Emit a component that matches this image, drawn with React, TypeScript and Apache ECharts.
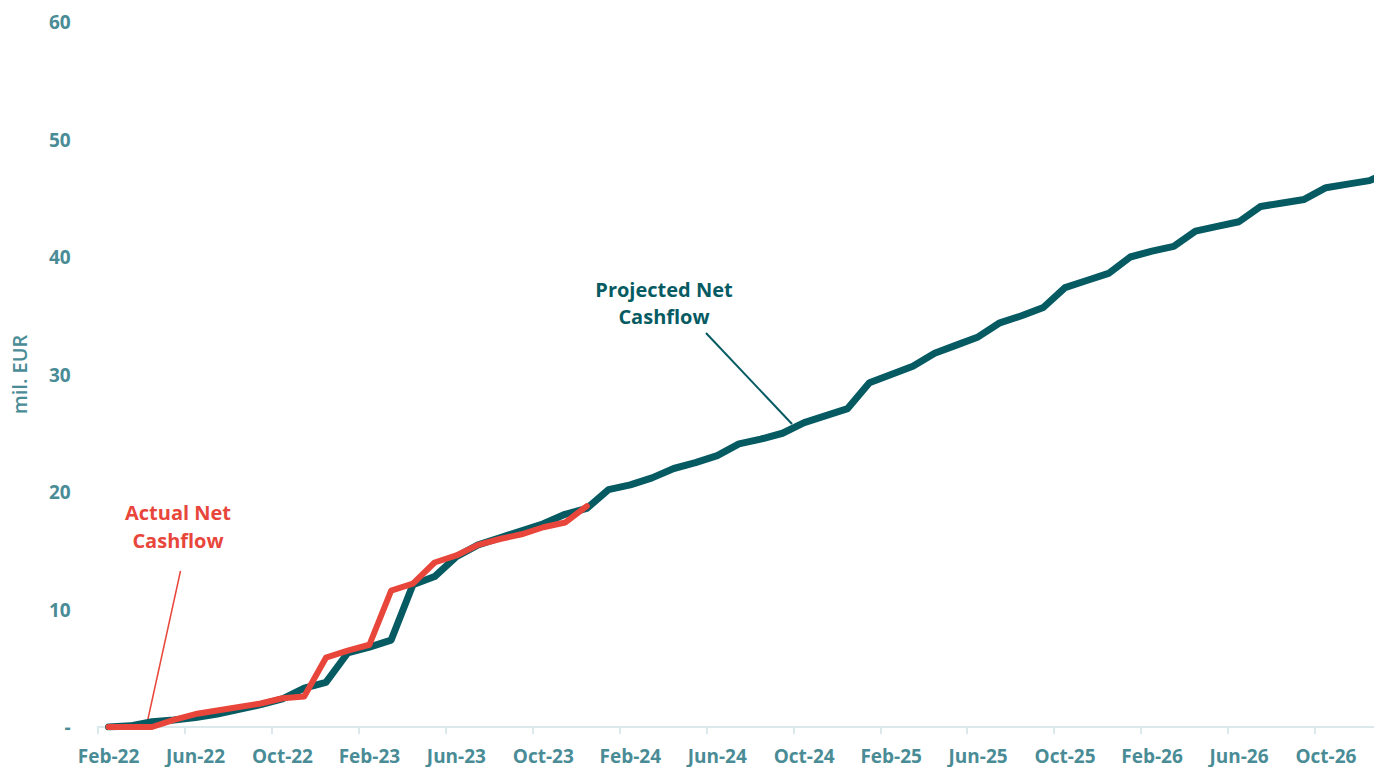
import React, { useEffect, useRef } from "react";
import * as echarts from "echarts";

const categories = [
  "Feb-22", "Mar-22", "Apr-22", "May-22", "Jun-22", "Jul-22", "Aug-22", "Sep-22", "Oct-22", "Nov-22", "Dec-22",
  "Jan-23", "Feb-23", "Mar-23", "Apr-23", "May-23", "Jun-23", "Jul-23", "Aug-23", "Sep-23", "Oct-23", "Nov-23", "Dec-23",
  "Jan-24", "Feb-24", "Mar-24", "Apr-24", "May-24", "Jun-24", "Jul-24", "Aug-24", "Sep-24", "Oct-24", "Nov-24", "Dec-24",
  "Jan-25", "Feb-25", "Mar-25", "Apr-25", "May-25", "Jun-25", "Jul-25", "Aug-25", "Sep-25", "Oct-25", "Nov-25", "Dec-25",
  "Jan-26", "Feb-26", "Mar-26", "Apr-26", "May-26", "Jun-26", "Jul-26", "Aug-26", "Sep-26", "Oct-26", "Nov-26", "Dec-26",
  "Jan-27",
];

const projectedNetCashflow = [
  0, 0.1, 0.45, 0.6, 0.8, 1.1, 1.5, 1.9, 2.4, 3.3, 3.8,
  6.3, 6.8, 7.4, 12.1, 12.8, 14.5, 15.5, 16.1, 16.7, 17.3, 18.1, 18.6,
  20.2, 20.6, 21.2, 22.0, 22.5, 23.1, 24.1, 24.5, 25.0, 25.9, 26.5, 27.1,
  29.3, 30.0, 30.7, 31.8, 32.5, 33.2, 34.4, 35.0, 35.7, 37.4, 38.0, 38.6,
  40.0, 40.5, 40.9, 42.2, 42.6, 43.0, 44.3, 44.6, 44.9, 45.9, 46.2, 46.5,
  47.3,
];

const actualNetCashflow = [
  0, 0, 0, 0.6, 1.1, 1.4, 1.7, 2.0, 2.45, 2.6, 5.9,
  6.5, 7.0, 11.6, 12.2, 14.0, 14.6, 15.5, 16.0, 16.4, 17.0, 17.4, 18.8,
];

const yTicks = { min: 0, max: 60, interval: 10 };

const TEAL_TEXT = "#4A8C96";
const DARK = "#065B63";
const RED = "#E8463B";
const FONT = "'Open Sans', sans-serif";

export default function App() {
  const ref = useRef<HTMLDivElement>(null);

  useEffect(() => {
    if (!ref.current) return;
    const chart = echarts.init(ref.current, null, { renderer: "svg" });
    chart.setOption({
      animation: false,
      backgroundColor: "#ffffff",
      grid: { left: 97.7, right: 0, top: 22, bottom: 40, containLabel: false },
      xAxis: {
        type: "category",
        data: categories,
        boundaryGap: true,
        axisLine: { show: true, lineStyle: { color: "#DCE9EC", width: 2 } },
        axisTick: { show: true, interval: 3, length: 7, lineStyle: { color: "#DCE9EC", width: 2 } },
        axisLabel: {
          interval: 3,
          margin: 19,
          color: TEAL_TEXT,
          fontFamily: FONT,
          fontWeight: "bold",
          fontSize: 19,
        },
        splitLine: { show: false },
      },
      yAxis: {
        type: "value",
        min: yTicks.min,
        max: yTicks.max,
        interval: yTicks.interval,
        name: "mil. EUR",
        nameLocation: "middle",
        nameRotate: 90,
        nameGap: 68,
        nameTextStyle: { color: TEAL_TEXT, fontFamily: FONT, fontWeight: 600, fontSize: 20 },
        axisLine: { show: false },
        axisTick: { show: false },
        splitLine: { show: false },
        axisLabel: {
          margin: 27,
          color: TEAL_TEXT,
          fontFamily: FONT,
          fontWeight: "bold",
          fontSize: 19,
          formatter: (v: number) => (v === 0 ? "-" : String(v)),
        },
      },
      series: [
        {
          name: "Projected Net Cashflow",
          type: "line",
          data: projectedNetCashflow,
          symbol: "none",
          z: 2,
          lineStyle: { color: DARK, width: 7, join: "round", cap: "round" },
        },
        {
          name: "Actual Net Cashflow",
          type: "line",
          data: actualNetCashflow,
          symbol: "none",
          z: 3,
          lineStyle: { color: RED, width: 6, join: "round", cap: "round" },
        },
      ],
      graphic: [
        {
          type: "text",
          x: 664,
          y: 302.5,
          style: {
            text: "Projected Net\nCashflow",
            fill: DARK,
            font: `bold 20px ${FONT}`,
            align: "center",
            verticalAlign: "middle",
            lineHeight: 27,
          },
        },
        {
          type: "line",
          shape: { x1: 706, y1: 333, x2: 792, y2: 424 },
          style: { stroke: DARK, lineWidth: 2 },
        },
        {
          type: "text",
          x: 178,
          y: 526,
          style: {
            text: "Actual Net\nCashflow",
            fill: RED,
            font: `bold 20px ${FONT}`,
            align: "center",
            verticalAlign: "middle",
            lineHeight: 28,
          },
        },
        {
          type: "line",
          shape: { x1: 180.5, y1: 571, x2: 147.5, y2: 721 },
          style: { stroke: RED, lineWidth: 1.5 },
        },
      ],
    });
    return () => chart.dispose();
  }, []);

  return (
    <div
      style={{
        position: "fixed",
        left: 0,
        top: 0,
        width: 1374,
        height: 767,
        overflow: "hidden",
        background: "#ffffff",
      }}
    >
      <div ref={ref} style={{ width: 1402, height: 767 }} />
    </div>
  );
}
